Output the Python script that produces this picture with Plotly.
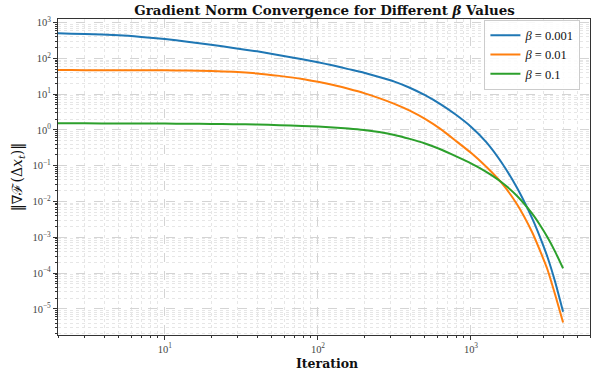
import plotly.graph_objects as go

# Data (iteration, gradient norm)
iterations = [1, 2, 3, 5, 7, 10, 14, 20, 28, 40, 56, 79, 100, 126, 158, 200, 251, 316,
              398, 501, 631, 794, 1000, 1259, 1585, 1995, 2512, 2818, 3162, 3548, 4000]

norm_beta_0001 = [513, 501, 479, 442, 398, 347, 292, 240, 195, 157, 123, 94.4, 77.6, 63.1,
                  50.1, 39.4, 30.2, 22.4, 15.1, 9.33, 5.25, 2.69, 1.23, 0.457, 0.123,
                  0.0245, 0.00339, 0.00105, 2.82e-4, 5.75e-5, 8.3e-6]

norm_beta_001 = [47.0, 47.0, 46.9, 46.8, 46.6, 46.2, 45.7, 44.5, 42.2, 38.0, 32.4, 26.6,
                 22.1, 18.0, 14.1, 10.7, 7.76, 5.37, 3.47, 2.04, 1.07, 0.501, 0.229,
                 0.0933, 0.0331, 0.00851, 0.00138, 4.37e-4, 1.26e-4, 2.51e-5, 4.17e-6]

norm_beta_01 = [1.53, 1.53, 1.53, 1.52, 1.52, 1.51, 1.49, 1.47, 1.45, 1.41, 1.36, 1.29,
                1.24, 1.17, 1.10, 1.00, 0.871, 0.724, 0.562, 0.417, 0.288, 0.186, 0.117,
                0.0676, 0.0347, 0.0145, 0.00457, 0.00224, 0.001, 3.98e-4, 1.35e-4]

labels = ["<i>β</i> = 0.001", "<i>β</i> = 0.01", "<i>β</i> = 0.1"]
colors = ["#1f77b4", "#ff7f0e", "#2ca02c"]

x_exps = [1, 2, 3]
y_exps = [3, 2, 1, 0, -1, -2, -3, -4, -5]


def sup(e):
    return "10<sup>" + (str(e) if e >= 0 else "\u2212" + str(-e)) + "</sup>"


x_minor = [m * 10 ** d for d in range(0, 4) for m in range(2, 10)]
y_minor = [m * 10.0 ** d for d in range(-6, 3) for m in range(2, 10)]

serif = "DejaVu Serif"
serif2 = "Liberation Serif"

fig = go.Figure()
for ys, lab, col in zip([norm_beta_0001, norm_beta_001, norm_beta_01], labels, colors):
    fig.add_trace(go.Scatter(x=iterations, y=ys, mode="lines", name=lab,
                             line=dict(color=col, width=2, shape="spline", smoothing=0.6)))

axis_common = dict(
    type="log",
    showline=True, linecolor="#333333", linewidth=1.2, mirror=True,
    ticks="outside", ticklen=4, tickcolor="#333333",
    showgrid=True, gridcolor="#d4d4d4", griddash="dash", gridwidth=0.8,
    zeroline=False,
    tickfont=dict(family=serif2, size=10.5, color="#444444"),
)

fig.update_xaxes(
    **axis_common,
    range=[0.301, 3.778],
    tickmode="array", tickvals=[10 ** e for e in x_exps], ticktext=[sup(e) for e in x_exps],
    minor=dict(tickmode="array", tickvals=x_minor, ticks="outside", ticklen=2,
               tickcolor="#333333", showgrid=True, gridcolor="#e6e6e6", griddash="dot"),
)
fig.update_yaxes(
    **axis_common,
    range=[-5.73, 3.1],
    tickmode="array", tickvals=[10.0 ** e for e in y_exps], ticktext=[sup(e) for e in y_exps],
    minor=dict(tickmode="array", tickvals=y_minor, ticks="outside", ticklen=2,
               tickcolor="#333333", showgrid=True, gridcolor="#e6e6e6", griddash="dot"),
    title=dict(text="‖∇ℱ(Δ<i>x</i><sub><i>t</i></sub>)‖", font=dict(family=serif, size=14, color="#111111"), standoff=6),
)

fig.add_annotation(text="<b>Iteration</b>", xref="paper", yref="paper", x=0.505, y=-0.089,
                   xanchor="center", yanchor="middle", showarrow=False,
                   font=dict(family=serif, size=12.5, color="#111111"))

fig.update_layout(
    width=600, height=371,
    margin=dict(l=58, r=10, t=19, b=36, autoexpand=False),
    paper_bgcolor="white", plot_bgcolor="white",
    title=dict(text="<b>Gradient Norm Convergence for Different <i>β</i> Values</b>",
               x=0.541, xanchor="center", y=0.973, yanchor="middle",
               font=dict(family=serif, size=13.4, color="#111111")),
    legend=dict(x=0.982, y=0.998, xanchor="right", yanchor="top",
                bgcolor="rgba(255,255,255,0.85)", bordercolor="#cccccc", borderwidth=1,
                font=dict(family=serif2, size=12.5, color="#111111"),
                itemwidth=30, tracegroupgap=0),
    showlegend=True,
)

fig.write_html("out.html", config={"displayModeBar": False},
               post_script="document.body.style.margin='0';document.body.style.overflow='hidden';")
